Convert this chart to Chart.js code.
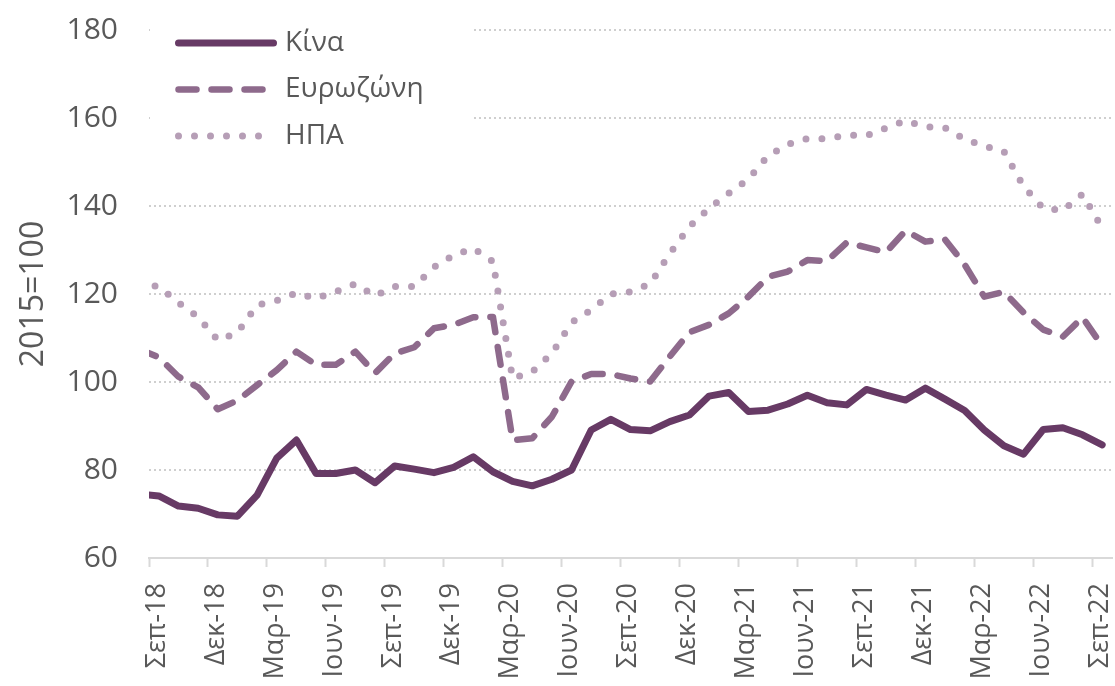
<!DOCTYPE html>
<html>
<head>
<meta charset="utf-8">
<script src="https://cdn.jsdelivr.net/npm/chart.js@4.4.0/dist/chart.umd.min.js"></script>
<style>
  html, body { margin: 0; padding: 0; background: #fff; }
  #wrap { width: 1115px; height: 686px; position: relative; }
</style>
</head>
<body>
<div id="wrap"><canvas id="indexChart"></canvas></div>
<script>
// quarterly tick labels on the time axis (Sep-18 .. Sep-22)
var tickLabels = ['Σεπ-18','Δεκ-18','Μαρ-19','Ιουν-19','Σεπ-19','Δεκ-19','Μαρ-20','Ιουν-20','Σεπ-20',
                  'Δεκ-20','Μαρ-21','Ιουν-21','Σεπ-21','Δεκ-21','Μαρ-22','Ιουν-22','Σεπ-22'];

var seriesNames = ['Κίνα', 'Ευρωζώνη', 'ΗΠΑ'];

// monthly values, Aug-18 (cut off at the left edge) to Sep-22
var china = [74.5,
  74.1, 71.8, 71.3, 69.8, 69.5, 74.3, 82.7, 86.8, 79.2, 79.2, 80.0, 77.1,
  80.9, 80.2, 79.4, 80.6, 83.0, 79.6, 77.4, 76.4, 77.9, 80.0, 89.1, 91.5,
  89.2, 88.9, 91.0, 92.5, 96.8, 97.6, 93.3, 93.6, 95.0, 97.0, 95.3, 94.8,
  98.3, 97.0, 95.9, 98.6, 96.1, 93.5, 89.1, 85.5, 83.6, 89.2, 89.6, 88.0,
  85.7];

var eurozone = [107.5,
  105.6, 101.2, 98.8, 93.8, 95.8, 99.3, 102.7, 106.9, 103.9, 103.9, 106.9, 102.0,
  106.5, 107.9, 112.2, 113.0, 114.7, 114.8, 86.8, 87.2, 92.1, 100.1, 101.8, 101.8,
  100.8, 100.1, 105.8, 111.3, 113.0, 115.6, 119.4, 123.9, 125.1, 127.7, 127.5, 131.7,
  130.6, 129.5, 134.4, 131.9, 132.4, 126.7, 119.4, 120.5, 115.8, 111.9, 110.3, 114.7,
  108.2];

var usa = [122.3,
  121.7, 118.0, 114.8, 109.5, 111.2, 117.5, 118.5, 120.2, 119.0, 120.5, 122.3, 119.6,
  121.7, 121.7, 126.1, 128.8, 130.4, 127.4, 100.8, 102.3, 106.5, 113.5, 116.4, 120.0,
  120.5, 122.3, 129.2, 135.3, 139.5, 142.9, 146.1, 151.4, 154.0, 155.3, 155.3, 156.1,
  156.0, 157.7, 159.4, 158.0, 157.8, 155.2, 153.6, 152.4, 144.5, 139.5, 139.0, 142.7,
  135.0];

// month 0 = start of Sep-18, values sit mid-month
function toPoints(arr){
  var pts = [];
  for(var i = 0; i < arr.length; i++) pts.push({ x: i - 0.5, y: arr[i] });
  return pts;
}

var textGrey = '#595959';
var lineGrey = '#D9D9D9';

Chart.defaults.font.family = "'Open Sans', 'Noto Sans', sans-serif";

// legend sits inside the plot, on a white box that hides the top gridlines
var legendBox = {
  id: 'legendBox',
  beforeDatasetsDraw: function(chart){
    var ctx = chart.ctx;
    ctx.save();
    ctx.fillStyle = '#fff';
    ctx.fillRect(chart.chartArea.left + 1, 18, 322, 140);
    ctx.restore();
  },
  afterDatasetsDraw: function(chart){
    var ctx = chart.ctx;
    var sets = chart.data.datasets;
    ctx.save();
    for(var i = 0; i < sets.length; i++){
      var ds = sets[i];
      var y = 43 + i * 46.5;
      ctx.beginPath();
      ctx.strokeStyle = ds.borderColor;
      ctx.lineWidth = ds.borderWidth;
      ctx.lineCap = 'round';
      ctx.setLineDash(ds.borderDash || []);
      ctx.moveTo(178.5, y);
      ctx.lineTo(273.5, y);
      ctx.stroke();

      ctx.setLineDash([]);
      ctx.fillStyle = textGrey;
      ctx.font = "28px 'Open Sans', 'Noto Sans', sans-serif";
      ctx.textBaseline = 'middle';
      ctx.textAlign = 'left';
      ctx.fillText(ds.label, 285, y);
    }
    ctx.restore();
  }
};

new Chart(document.getElementById('indexChart'), {
  type: 'line',
  data: {
    datasets: [
      { label: seriesNames[0], data: toPoints(china), borderColor: '#673A65', borderWidth: 7,
        borderCapStyle: 'round', borderJoinStyle: 'round', clip: 0 },
      { label: seriesNames[1], data: toPoints(eurozone), borderColor: '#8E6A8C', borderWidth: 6.5,
        borderDash: [18, 15], borderCapStyle: 'round', borderJoinStyle: 'round', clip: 0 },
      { label: seriesNames[2], data: toPoints(usa), borderColor: '#B69EB6', borderWidth: 7,
        borderDash: [0, 16], borderCapStyle: 'round', borderJoinStyle: 'round', clip: 0 }
    ]
  },
  options: {
    responsive: true, maintainAspectRatio: false, animation: false,
    layout: { padding: { top: 30, right: 3, bottom: 0, left: 0 } },
    elements: { point: { radius: 0, hoverRadius: 0 }, line: { tension: 0 } },
    plugins: { legend: { display: false }, tooltip: { enabled: false } },
    scales: {
      x: {
        type: 'linear', min: 0, max: 49,
        afterBuildTicks: function(scale){
          var t = [];
          for(var i = 0; i < tickLabels.length; i++) t.push({ value: i * 3 });
          scale.ticks = t;
        },
        afterFit: function(scale){
          scale.height = 128;
          scale.paddingLeft = 0;
          scale.paddingRight = 0;
        },
        grid: { drawOnChartArea: false, drawTicks: true, tickLength: 9, tickColor: lineGrey, tickWidth: 2 },
        border: { display: true, color: lineGrey, width: 2 },
        ticks: {
          autoSkip: false, minRotation: 90, maxRotation: 90, padding: 16, labelOffset: 8,
          color: textGrey, font: { size: 27 },
          callback: function(v, idx){ return tickLabels[idx]; }
        }
      },
      y: {
        min: 60, max: 180,
        afterFit: function(scale){
          scale.width = 149;
          scale.paddingTop = 0;
          scale.paddingBottom = 0;
        },
        ticks: { stepSize: 20, padding: 31, color: textGrey, font: { size: 30 } },
        grid: { color: '#CFCFCF', lineWidth: 2, drawTicks: false },
        border: { display: false, dash: [2, 3] },
        title: { display: true, text: '2015=100', color: textGrey, font: { size: 32 }, padding: { top: 15, bottom: 0 } }
      }
    }
  },
  plugins: [legendBox]
});
</script>
</body>
</html>
